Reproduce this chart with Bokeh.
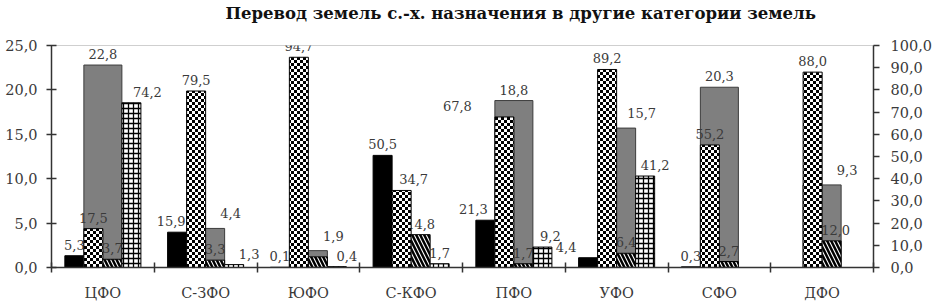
import math
import base64
from bokeh.plotting import figure
from bokeh.models import (ColumnDataSource, Range1d, LinearAxis, FixedTicker,
                          CustomJSTickFormatter, ImageURLTexture, Title)
from bokeh.core.properties import value
from bokeh.embed import file_html
from bokeh.resources import INLINE

NaN = float("nan")

# ---------------- data ----------------
title_text = "Перевод земель с.-х. назначения в другие категории земель"
categories = ["ЦФО", "С-ЗФО", "ЮФО", "С-КФО", "ПФО", "УФО", "СФО", "ДФО"]
# primary (left) axis series – wide grey bar
gray_vals = [22.8, 4.4, 1.9, NaN, 18.8, 15.7, 20.3, 9.3]
# secondary (right) axis series
black_vals = [5.3, 15.9, 0.1, 50.5, 21.3, 4.4, 0.3, NaN]
checker_vals = [17.5, 79.5, 94.7, 34.7, 67.8, 89.2, 55.2, 88.0]
hatch_vals = [3.7, 3.3, 4.8, 14.8, 1.7, 6.4, 2.7, 12.0]
grid_vals = [74.2, 1.3, 0.4, 1.7, 9.2, 41.2, NaN, NaN]
left_ticks = [0, 5, 10, 15, 20, 25]
right_ticks = [0, 10, 20, 30, 40, 50, 60, 70, 80, 90, 100]

# ---------------- styles ----------------
SERIF = "DejaVu Serif"
LABEL_COLOR = "#3a3a3a"
AXIS_COLOR = "#333333"
BAR_W = 0.185
OFFS = {"black": -1.5 * BAR_W, "checker": -0.5 * BAR_W,
        "hatch": 0.5 * BAR_W, "grid": 1.5 * BAR_W}
# hand-placed label nudges of the original chart (pixels)
NUDGE = {("grid", 0): 16, ("grid", 1): 15, ("grid", 2): 10, ("grid", 4): 8,
         ("grid", 5): 10, ("black", 1): -6, ("black", 4): -12,
         ("black", 5): -22, ("checker", 4): -47, ("checker", 3): 12,
         ("hatch", 7): 4}
HIDDEN = {("hatch", 2)}

n = len(categories)
centers = [i + 0.5 for i in range(n)]
bounds = list(range(n + 1))


def fmt(v):
    return ("%.1f" % v).replace(".", ",")


p = figure(width=935, height=303, output_backend="svg", toolbar_location=None,
           x_range=Range1d(0, n), y_range=Range1d(0, 25),
           min_border_left=51, min_border_right=60, min_border_top=45,
           min_border_bottom=30, title=title_text)
p.extra_y_ranges = {"r": Range1d(0, 100)}
p.background_fill_color = "white"
p.border_fill_color = "white"
p.outline_line_color = "#cfcfcf"
p.xgrid.grid_line_color = None
p.ygrid.grid_line_color = None

# real title on top; a blank spacer title sits between it and the frame
p.title.text_font = SERIF
p.title.text_font_size = "16.5px"
p.title.text_font_style = "bold"
p.title.text_color = "#111111"
p.title.align = "left"
p.title.offset = 174
p.title.standoff = 0
p.add_layout(Title(text=" ", text_font_size="12px", standoff=7), "above")


def style_axis(ax, size):
    ax.axis_line_color = AXIS_COLOR
    ax.axis_line_width = 1.5
    ax.major_tick_line_color = AXIS_COLOR
    ax.major_tick_line_width = 1.5
    ax.minor_tick_line_color = None
    ax.major_label_text_font = SERIF
    ax.major_label_text_font_size = size
    ax.major_label_text_color = LABEL_COLOR


# left axis
ya = p.yaxis[0]
ya.ticker = FixedTicker(ticks=left_ticks, minor_ticks=[])
ya.formatter = CustomJSTickFormatter(code="return tick.toFixed(1).replace('.', ',')")
style_axis(ya, "14.5px")
ya.major_tick_in = 5
ya.major_tick_out = 5
ya.major_label_standoff = 9

# right axis
ra = LinearAxis(y_range_name="r",
                ticker=FixedTicker(ticks=right_ticks, minor_ticks=[]),
                formatter=CustomJSTickFormatter(code="return tick.toFixed(1).replace('.', ',')"))
style_axis(ra, "14.5px")
ra.major_tick_in = 0
ra.major_tick_out = 6
ra.major_label_standoff = 11
p.add_layout(ra, "right")

# bottom axis: labels at centres, tick marks at category borders
xa = p.xaxis[0]
xa.ticker = FixedTicker(ticks=centers, minor_ticks=bounds)
xa.formatter = CustomJSTickFormatter(args=dict(names=categories),
                                     code="return names[Math.floor(tick)] || ''")
style_axis(xa, "14.5px")
xa.major_tick_line_color = None
xa.major_tick_in = 0
xa.major_tick_out = 0
xa.minor_tick_in = 5
xa.minor_tick_out = 5
xa.minor_tick_line_color = AXIS_COLOR
xa.minor_tick_line_width = 1.5
xa.major_label_standoff = 12


def src(vals, off):
    return ColumnDataSource(dict(x=[c + off for c in centers], top=vals))


# 1) primary wide grey bars
p.vbar(x="x", top="top", width=2 * BAR_W, bottom=0, source=src(gray_vals, 0.0),
       fill_color="#7f7f7f", line_color="#3c3c3c", line_width=1)


# 2) data labels (drawn under the secondary bars, as in the original)
def add_labels(vals, key, y_range_name=None, shift_rule=None):
    xs, ys, txt, dx, dy = [], [], [], [], []
    for i, v in enumerate(vals):
        if v is None or (isinstance(v, float) and math.isnan(v)) or (key, i) in HIDDEN:
            continue
        off = 0.0 if key == "gray" else OFFS[key]
        xs.append(centers[i] + off)
        ys.append(v)
        txt.append(fmt(v))
        nx = NUDGE.get((key, i), 0)
        ny = -6
        if shift_rule is not None and shift_rule(i):
            nx, ny = 25, -10
        dx.append(nx)
        dy.append(ny)
    s = ColumnDataSource(dict(x=xs, y=ys, t=txt, dx=dx, dy=dy))
    kw = {}
    if y_range_name:
        kw["y_range_name"] = y_range_name
    p.text(x="x", y="y", text="t", x_offset="dx", y_offset="dy", source=s,
           text_font=value(SERIF), text_font_size="13px", text_color=LABEL_COLOR,
           text_align="center", text_baseline="bottom", **kw)


add_labels(gray_vals, "gray",
           shift_rule=lambda i: checker_vals[i] / 4.0 > gray_vals[i])
add_labels(black_vals, "black", "r")
add_labels(checker_vals, "checker", "r")
add_labels(hatch_vals, "hatch", "r")
add_labels(grid_vals, "grid", "r")

# 3) secondary bars
checker_svg = ('<svg xmlns="http://www.w3.org/2000/svg" width="6" height="6" '
               'shape-rendering="crispEdges">'
               '<rect width="6" height="6" fill="#ffffff"/>'
               '<rect width="3" height="3" fill="#000000"/>'
               '<rect x="3" y="3" width="3" height="3" fill="#000000"/></svg>')
checker_url = "data:image/svg+xml;base64," + base64.b64encode(checker_svg.encode()).decode()
checker_tex = ImageURLTexture(url=checker_url)

p.vbar(x="x", top="top", width=BAR_W, bottom=0, y_range_name="r",
       source=src(black_vals, OFFS["black"]),
       fill_color="black", line_color="black", line_width=1)
p.vbar(x="x", top="top", width=BAR_W, bottom=0, y_range_name="r",
       source=src(checker_vals, OFFS["checker"]),
       fill_color="white", line_color="black", line_width=1,
       hatch_pattern=value("checker"), hatch_extra={"checker": checker_tex},
       hatch_color="black", hatch_scale=6, hatch_weight=1)
p.vbar(x="x", top="top", width=BAR_W, bottom=0, y_range_name="r",
       source=src(hatch_vals, OFFS["hatch"]),
       fill_color="white", line_color="black", line_width=1,
       hatch_pattern="\\", hatch_color="black", hatch_scale=8, hatch_weight=2.5)
p.vbar(x="x", top="top", width=BAR_W, bottom=0, y_range_name="r",
       source=src(grid_vals, OFFS["grid"]),
       fill_color="white", line_color="black", line_width=1,
       hatch_pattern="+", hatch_color="black", hatch_scale=5, hatch_weight=1.3)

open("out.html", "w").write(file_html(p, INLINE))
